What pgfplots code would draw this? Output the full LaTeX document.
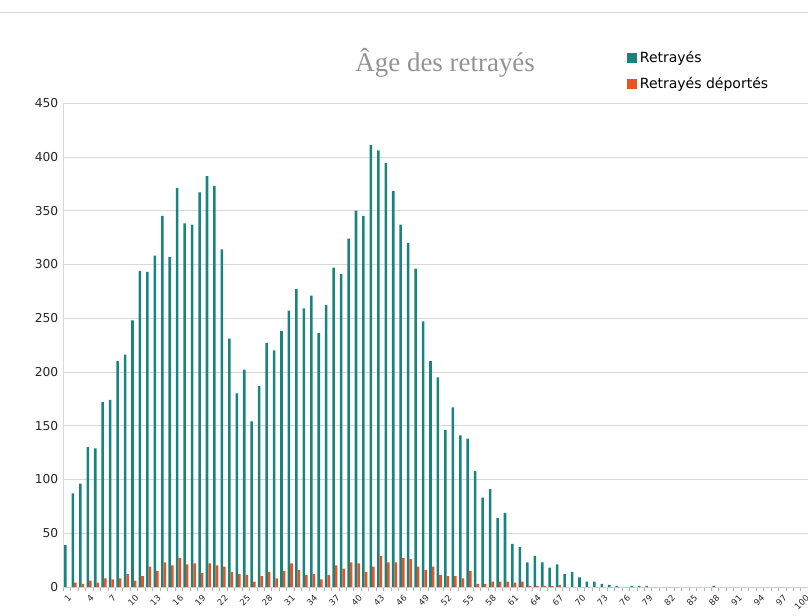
\documentclass[border=0pt]{standalone}
\usepackage{pgfplots}
\usepackage{pgfplotstable}
\pgfplotsset{compat=1.18}
\usepackage{fontspec}
\setmainfont{DejaVu Sans}
\newfontfamily\titlefont{Liberation Serif}
\definecolor{tealbar}{RGB}{24,132,128}
\definecolor{orangebar}{RGB}{232,83,38}
\definecolor{gridgray}{RGB}{216,216,216}

\pgfplotstableread{
x t o
1 39 0
2 87 4
3 96 3
4 130 6
5 129 4
6 172 8
7 174 7
8 210 8
9 216 12
10 248 6
11 294 10
12 293 19
13 308 15
14 345 23
15 307 20
16 371 27
17 338 21
18 337 22
19 367 13
20 382 22
21 373 20
22 314 19
23 231 14
24 180 12
25 202 11
26 154 5
27 187 10
28 227 14
29 220 8
30 238 15
31 257 22
32 277 16
33 259 11
34 271 12
35 236 7
36 262 11
37 297 20
38 291 17
39 324 23
40 350 22
41 345 14
42 411 19
43 406 29
44 394 23
45 368 23
46 337 27
47 320 26
48 296 19
49 247 16
50 210 19
51 195 11
52 146 10
53 167 10
54 141 8
55 138 15
56 108 3
57 83 3
58 91 5
59 64 5
60 69 5
61 40 4
62 37 5
63 23 1
64 29 1
65 23 1
66 18 1
67 21 2
68 12 0
69 14 0
70 9 0
71 5 0
72 5 0
73 3 0
74 2 0
75 1 0
76 0 0
77 1 0
78 1 0
79 1 0
80 0 0
81 0 0
82 0 0
83 0 0
84 0 0
85 0 0
86 0 0
87 0 0
88 1 0
89 0 0
90 0 0
91 0 0
92 0 0
93 0 0
94 0 0
95 0 0
96 0 0
97 0 0
98 0 0
99 0 0
100 0 0
}\data

\begin{document}
\begin{tikzpicture}
\useasboundingbox (-47.25pt,-21pt) rectangle (558.75pt,440.25pt);
\draw[gridgray] (-47.25pt,431.25pt) -- (558.75pt,431.25pt);
\begin{axis}[
  at={(0,0)}, anchor=south west,
  scale only axis, width=558.75pt, height=363pt,
  xmin=0.5, xmax=100.5, ymin=0, ymax=450,
  ybar=0pt, bar width=1.9pt,
  axis lines*=left,
  axis line style={gridgray, -},
  ytick={0,50,...,450},
  ymajorgrids, grid style={gridgray},
  xtick={1,4,...,100},
  minor xtick={0.5,1.5,...,100.5},
  major tick length=0pt, minor tick length=3pt,
  tick align=outside,
  tick style={gray!60},
  /pgf/number format/assume math mode=true,
  yticklabel style={font=\fontsize{9.2}{10}\selectfont, text=black!85},
  xticklabel style={rotate=45, anchor=north east, font=\fontsize{6.4}{7}\selectfont, text=black!85, yshift=-1pt},
  title={Âge des retrayés},
  title style={at={(0.513,1.066)}, anchor=center, font=\titlefont\fontsize{20.2}{23}\selectfont, text=gray!85},
  legend style={at={(0.757,1.113)}, anchor=north west, draw=none, fill=none,
    font=\fontsize{10.5}{12}\selectfont, row sep=5.5pt, inner sep=0pt},
  legend cell align=left,
  legend image code/.code={\fill[#1] (0pt,-3.75pt) rectangle (7.5pt,3.75pt);},
]
\addplot[fill=tealbar, draw=none] table[x=x, y=t] {\data};
\addplot[fill=orangebar, draw=none] table[x=x, y=o] {\data};
\legend{Retrayés, Retrayés déportés}
\end{axis}
\end{tikzpicture}
\end{document}
